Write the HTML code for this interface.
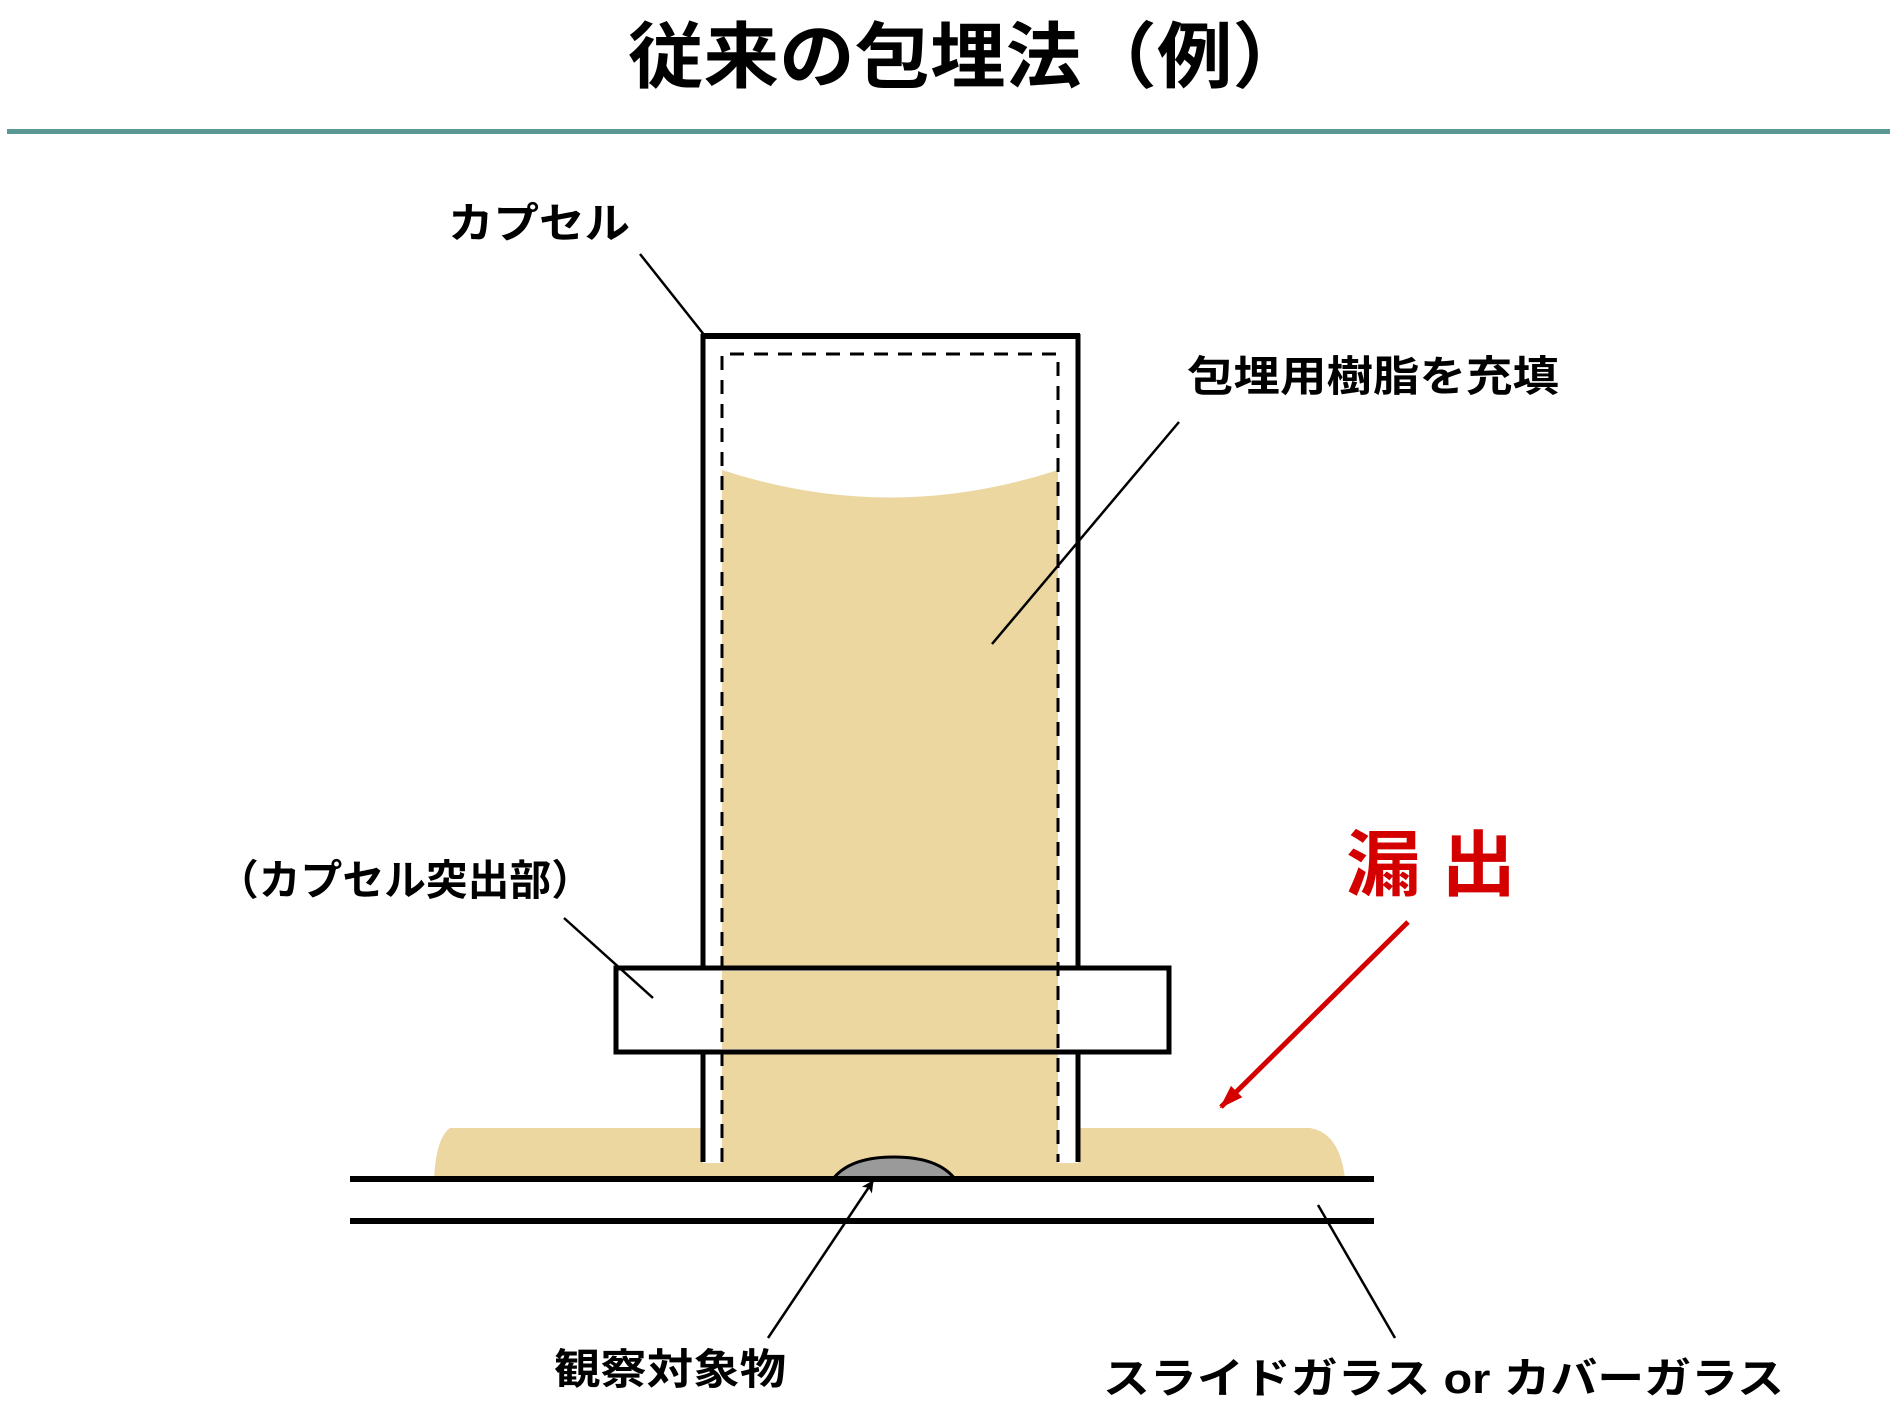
<!DOCTYPE html>
<html><head><meta charset="utf-8"><style>
html,body{margin:0;padding:0;background:#fff;}
svg{display:block;}
text{font-family:"Liberation Sans","Noto Sans CJK JP",sans-serif;}
</style></head><body>
<svg width="1890" height="1417" viewBox="0 0 1890 1417" xmlns="http://www.w3.org/2000/svg">
<defs>
<marker id="ar" markerWidth="12" markerHeight="12" refX="11" refY="6" orient="auto" markerUnits="userSpaceOnUse"><path d="M0,0 L12,6 L0,12 L3,6 z" fill="#000"/></marker>
<marker id="rar" markerWidth="24" markerHeight="20" refX="22" refY="10" orient="auto" markerUnits="userSpaceOnUse"><path d="M0,2 L24,10 L0,18 z" fill="#d40000"/></marker>
</defs>
<text x="968" y="82" font-size="72" font-weight="bold" text-anchor="middle" textLength="680" lengthAdjust="spacingAndGlyphs">従来の包埋法（例）</text>
<rect x="7" y="129" width="1883" height="5" fill="#5b9a94"/>

<path d="M450,1128 L1310,1128 Q1340,1133 1345,1179 L434,1179 Q436,1138 450,1128 z" fill="#ecd7a0"/>
<rect x="703" y="336" width="375" height="827" fill="#fff"/>
<path d="M722,470 Q890,525 1058,470 L1058,1179 L722,1179 z" fill="#ecd7a0"/>
<rect x="616" y="968" width="553" height="84" fill="#fff" stroke="#000" stroke-width="5"/>
<rect x="722" y="971" width="336" height="78" fill="#ecd7a0"/>
<line x1="703" y1="334" x2="703" y2="968" stroke="#000" stroke-width="5"/>
<line x1="1078" y1="334" x2="1078" y2="968" stroke="#000" stroke-width="5"/>
<line x1="703" y1="1052" x2="703" y2="1162" stroke="#000" stroke-width="5"/>
<line x1="1078" y1="1052" x2="1078" y2="1162" stroke="#000" stroke-width="5"/>
<line x1="701" y1="336" x2="1080" y2="336" stroke="#000" stroke-width="6"/>
<path d="M722,1162 L722,354 L1058,354 L1058,1162" fill="none" stroke="#000" stroke-width="3" stroke-dasharray="14,10"/>
<path d="M833,1179 Q850,1157 894,1157 Q938,1157 955,1179 z" fill="#9a9a9a" stroke="#000" stroke-width="3"/>
<line x1="350" y1="1179" x2="1374" y2="1179" stroke="#000" stroke-width="6"/>
<line x1="350" y1="1221" x2="1374" y2="1221" stroke="#000" stroke-width="6"/>

<line x1="640" y1="254" x2="705" y2="336" stroke="#000" stroke-width="2.5"/>
<line x1="1179" y1="422" x2="992" y2="644" stroke="#000" stroke-width="2.5"/>
<line x1="564" y1="918" x2="653" y2="998" stroke="#000" stroke-width="2.5"/>
<line x1="768" y1="1338" x2="873" y2="1181" stroke="#000" stroke-width="2.5" marker-end="url(#ar)"/>
<line x1="1318" y1="1205" x2="1395" y2="1338" stroke="#000" stroke-width="2.5"/>
<line x1="1408" y1="922" x2="1221" y2="1107" stroke="#d40000" stroke-width="5" marker-end="url(#rar)"/>

<text x="448" y="238" font-size="42" font-weight="bold" textLength="182" lengthAdjust="spacingAndGlyphs">カプセル</text>
<text x="1187" y="391" font-size="42" font-weight="bold" textLength="372" lengthAdjust="spacingAndGlyphs">包埋用樹脂を充填</text>
<text x="217" y="895" font-size="42" font-weight="bold" textLength="376" lengthAdjust="spacingAndGlyphs">（カプセル突出部）</text>
<text x="1346" y="890" font-size="72" font-weight="bold" fill="#d40000" textLength="170" lengthAdjust="spacingAndGlyphs">漏 出</text>
<text x="554" y="1384" font-size="42" font-weight="bold" textLength="232" lengthAdjust="spacingAndGlyphs">観察対象物</text>
<text x="1103" y="1393" font-size="42" font-weight="bold" textLength="681" lengthAdjust="spacingAndGlyphs">スライドガラス or カバーガラス</text>
</svg>
</body></html>
